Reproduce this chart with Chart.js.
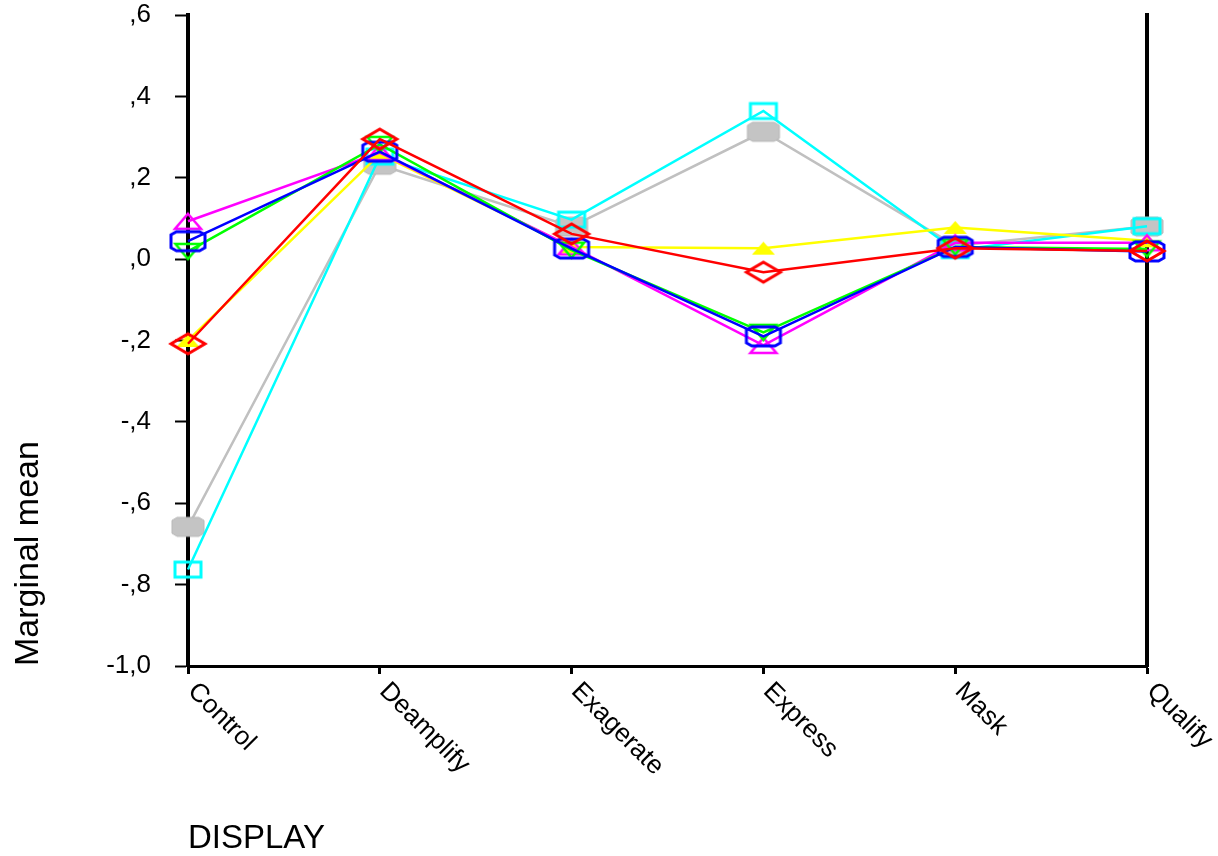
<!DOCTYPE html>
<html><head><meta charset="utf-8">
<script src="https://cdn.jsdelivr.net/npm/chart.js@4/dist/chart.umd.min.js"></script>
<style>html,body{margin:0;padding:0;background:#fff;}canvas{display:block;}</style>
</head><body>
<canvas id="c" width="1218" height="856"></canvas>
<script>
const categories = ['Control', 'Deamplify', 'Exagerate', 'Express', 'Mask', 'Qualify'];
const yTickValues = [0.6, 0.4, 0.2, 0, -0.2, -0.4, -0.6, -0.8, -1.0];
const yTickLabels = [',6', ',4', ',2', ',0', '-,2', '-,4', '-,6', '-,8', '-1,0'];

const redValues     = [-0.208, 0.295, 0.062, -0.032, 0.027, 0.020];
const blueValues    = [0.044, 0.264, 0.026, -0.190, 0.030, 0.019];
const greenValues   = [0.019, 0.282, 0.022, -0.180, 0.030, 0.025];
const magentaValues = [0.093, 0.262, 0.030, -0.212, 0.040, 0.040];
const yellowValues  = [-0.200, 0.258, 0.030, 0.027, 0.078, 0.045];
const cyanValues    = [-0.763, 0.252, 0.097, 0.364, 0.022, 0.081];
const grayValues    = [-0.658, 0.232, 0.080, 0.313, 0.033, 0.080];

function marker(shape, w, h, stroke, fill, lw) {
  const pad = Math.ceil(lw) + 1;
  const c = document.createElement('canvas');
  c.width = w + pad * 2; c.height = h + pad * 2;
  const g = c.getContext('2d');
  const cx = c.width / 2, cy = c.height / 2, hw = w / 2, hh = h / 2;
  g.beginPath();
  if (shape === 'octagon') {
    const a = hw * 0.32, b = hh * 0.32;
    g.moveTo(cx - hw + a, cy - hh); g.lineTo(cx + hw - a, cy - hh);
    g.lineTo(cx + hw, cy - hh + b); g.lineTo(cx + hw, cy + hh - b);
    g.lineTo(cx + hw - a, cy + hh); g.lineTo(cx - hw + a, cy + hh);
    g.lineTo(cx - hw, cy + hh - b); g.lineTo(cx - hw, cy - hh + b);
  } else if (shape === 'diamond') {
    g.moveTo(cx, cy - hh); g.lineTo(cx + hw, cy); g.lineTo(cx, cy + hh); g.lineTo(cx - hw, cy);
  } else if (shape === 'triUp') {
    g.moveTo(cx, cy - hh); g.lineTo(cx + hw, cy + hh); g.lineTo(cx - hw, cy + hh);
  } else if (shape === 'triDown') {
    g.moveTo(cx - hw, cy - hh); g.lineTo(cx + hw, cy - hh); g.lineTo(cx, cy + hh);
  } else {
    g.rect(cx - hw, cy - hh, w, h);
  }
  g.closePath();
  if (fill) { g.fillStyle = fill; g.fill(); }
  if (stroke) { g.strokeStyle = stroke; g.lineWidth = lw; g.stroke(); }
  return c;
}

function series(data, color, style) {
  return {
    data: data, borderColor: color, backgroundColor: color, borderWidth: 2.5,
    pointStyle: style, pointRadius: 12, pointHoverRadius: 12, tension: 0, clip: false
  };
}

const datasets = [
  series(redValues, '#ff0000', marker('diamond', 34, 20, '#ff0000', null, 3)),
  series(blueValues, '#0000ff', marker('octagon', 34, 19, '#0000ff', null, 3)),
  series(greenValues, '#00ff00', marker('triDown', 25, 15, '#00ff00', null, 2.5)),
  series(magentaValues, '#ff00ff', marker('triUp', 26, 15, '#ff00ff', null, 2.5)),
  series(yellowValues, '#ffff00', marker('triUp', 23, 13, null, '#ffff00', 0)),
  series(cyanValues, '#00ffff', marker('square', 26, 15, '#00ffff', null, 3)),
  series(grayValues, '#c0c0c0', marker('octagon', 32, 19, '#b8b8b8', '#c4c4c4', 1))
];

Chart.defaults.font.family = "'Liberation Sans', Arial, sans-serif";
Chart.defaults.color = '#000';

const xLabelPlugin = {
  id: 'xLabels',
  afterDraw(chart) {
    const ctx = chart.ctx, xs = chart.scales.x;
    ctx.save();
    ctx.fillStyle = '#000';
    ctx.font = "26px 'Liberation Sans', Arial, sans-serif";
    ctx.textAlign = 'left';
    ctx.textBaseline = 'top';
    categories.forEach((lab, i) => {
      const x = xs.getPixelForValue(i);
      ctx.save();
      ctx.translate(x + 13, xs.top + 12);
      ctx.rotate(Math.PI / 4);
      ctx.fillText(lab, 0, 0);
      ctx.restore();
    });
    ctx.restore();
  }
};

new Chart(document.getElementById('c'), {
  type: 'line',
  data: { labels: categories, datasets: datasets },
  plugins: [xLabelPlugin],
  options: {
    responsive: false, devicePixelRatio: 1, animation: false,
    layout: { padding: { top: 15, left: 0, right: 0, bottom: 0 } },
    plugins: { legend: { display: false }, tooltip: { enabled: false } },
    scales: {
      x: {
        type: 'category', offset: false,
        grid: { display: true, drawOnChartArea: false, tickLength: 8, tickWidth: 3, tickColor: '#000', offset: false },
        border: { display: true, color: '#000', width: 3 },
        ticks: { display: false },
        title: { display: true, text: 'DISPLAY', align: 'start', color: '#000',
                 font: { size: 33, lineHeight: 1 }, padding: { top: 0, bottom: 1 } },
        afterFit(s) { s.height = 190; s.paddingLeft = 0; s.paddingRight = 0; }
      },
      y: {
        type: 'linear', position: 'left', min: -1, max: 0.6,
        afterBuildTicks(s) { s.ticks = yTickValues.map(v => ({ value: v })); },
        ticks: {
          autoSkip: false, padding: 24, color: '#000', font: { size: 26 },
          callback(v) {
            const i = yTickValues.findIndex(t => Math.abs(t - v) < 1e-6);
            return i >= 0 ? yTickLabels[i] : '';
          }
        },
        grid: { display: true, drawOnChartArea: false, tickLength: 13, tickWidth: 2, tickColor: '#000' },
        border: { display: true, color: '#000', width: 4 },
        title: { display: true, text: 'Marginal mean', align: 'start', color: '#000',
                 font: { size: 34, lineHeight: 1 }, padding: { top: 12, bottom: 0 } },
        afterFit(s) { s.width = 188; s.paddingTop = 0; s.paddingBottom = 0; }
      },
      y2: {
        type: 'linear', position: 'right', min: -1, max: 0.6, display: true,
        ticks: { display: false },
        grid: { display: false, drawTicks: false },
        border: { display: true, color: '#000', width: 4 },
        afterFit(s) { s.width = 71; s.paddingTop = 0; s.paddingBottom = 0; }
      }
    }
  }
});
</script>
</body></html>
